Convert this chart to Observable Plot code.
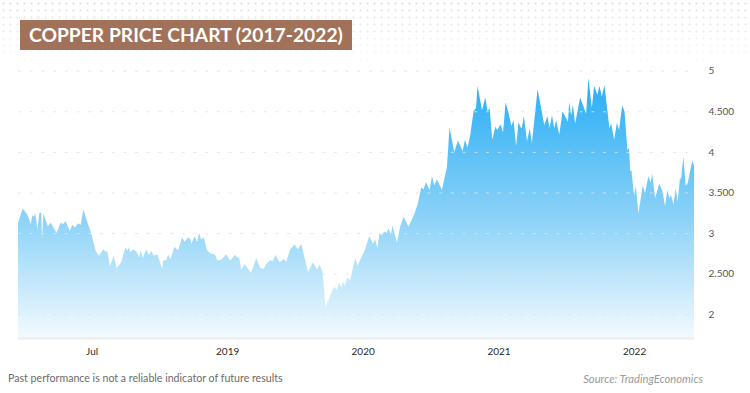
<!DOCTYPE html>
<html>
<head>
<meta charset="utf-8">
<script src="https://cdn.jsdelivr.net/npm/d3@7"></script>
<script src="https://cdn.jsdelivr.net/npm/@observablehq/plot@0.6"></script>
<style>
  html, body { margin: 0; padding: 0; background: #fff; }
  #wrap { position: relative; width: 750px; height: 393px; overflow: hidden; background: #fff; font-family: Lato, "Open Sans", sans-serif; }
  #dots { position: absolute; left: 0; top: 0; width: 750px; height: 70px;
    background-image: radial-gradient(circle, #dedede 0.9px, transparent 1.2px);
    background-size: 7px 7px;
    -webkit-mask-image: linear-gradient(to bottom, rgba(0,0,0,0.9), rgba(0,0,0,0));
    mask-image: linear-gradient(to bottom, rgba(0,0,0,0.9), rgba(0,0,0,0)); }
  #chart { position: absolute; left: 0; top: 0; }
  #title { position: absolute; left: 20px; top: 20px; width: 332px; height: 30px; background: #a17259; }
  #title span { position: absolute; left: 9px; top: 50%; transform-origin: left center; color: #fff; font-weight: 700; font-size: 20px; white-space: nowrap; font-family: Lato, sans-serif; line-height: 1; }
  .foot { position: absolute; top: 373px; font-size: 11px; white-space: nowrap; line-height: 1; }
  #note { left: 8px; color: #6b6b6b; }
  #source { right: 47px; color: #9a9a9a; font-style: italic; }
</style>
</head>
<body>
<div id="wrap">
  <div id="dots"></div>
  <div id="chart"></div>
  <div id="title"><span id="titleText">COPPER PRICE CHART (2017-2022)</span></div>
  <div class="foot" id="note">Past performance is not a reliable indicator of future results</div>
  <div class="foot" id="source">Source: TradingEconomics</div>
</div>
<script>
// Decimal-year dates
const years = [
  2017.457,2017.490,2017.521,2017.538,2017.551,2017.563,2017.575,2017.585,2017.600,2017.615,
  2017.629,2017.634,2017.644,2017.678,2017.698,2017.742,2017.772,2017.789,2017.808,2017.838,
  2017.858,2017.877,2017.902,2017.919,2017.939,2017.963,2017.993,2018.029,2018.054,2018.086,
  2018.103,2018.116,2018.135,2018.164,2018.184,2018.219,2018.250,2018.263,2018.275,2018.287,
  2018.304,2018.331,2018.351,2018.361,2018.378,2018.403,2018.422,2018.440,2018.459,2018.484,
  2018.501,2018.521,2018.528,2018.552,2018.565,2018.582,2018.611,2018.639,2018.668,2018.687,
  2018.712,2018.729,2018.737,2018.759,2018.779,2018.793,2018.808,2018.827,2018.852,2018.877,
  2018.908,2018.930,2018.963,2018.992,2019.024,2019.056,2019.090,2019.105,2019.129,2019.176,
  2019.215,2019.245,2019.269,2019.289,2019.319,2019.333,2019.358,2019.387,2019.417,2019.436,
  2019.466,2019.498,2019.523,2019.547,2019.596,2019.633,2019.663,2019.682,2019.704,2019.726,
  2019.761,2019.790,2019.810,2019.827,2019.842,2019.854,2019.871,2019.884,2019.908,2019.945,
  2019.962,2020.018,2020.048,2020.075,2020.092,2020.109,2020.124,2020.141,2020.158,2020.178,
  2020.190,2020.208,2020.220,2020.234,2020.252,2020.276,2020.301,2020.337,2020.374,2020.404,
  2020.431,2020.448,2020.466,2020.492,2020.510,2020.527,2020.547,2020.583,2020.620,2020.639,
  2020.674,2020.701,2020.735,2020.753,2020.772,2020.792,2020.816,2020.834,2020.846,2020.878,
  2020.902,2020.919,2020.934,2020.954,2020.976,2020.991,2021.013,2021.033,2021.052,2021.074,
  2021.094,2021.111,2021.129,2021.148,2021.160,2021.171,2021.187,2021.210,2021.230,2021.246,
  2021.288,2021.337,2021.361,2021.376,2021.394,2021.411,2021.425,2021.448,2021.472,2021.512,
  2021.521,2021.536,2021.548,2021.565,2021.602,2021.646,2021.663,2021.688,2021.705,2021.730,
  2021.744,2021.762,2021.781,2021.818,2021.831,2021.853,2021.873,2021.889,2021.912,2021.929,
  2021.951,2021.963,2021.971,2021.980,2022.000,2022.013,2022.032,2022.064,2022.081,2022.105,
  2022.123,2022.133,2022.155,2022.186,2022.211,2022.228,2022.245,2022.260,2022.273,2022.290,
  2022.307,2022.322,2022.339,2022.346,2022.363,2022.381,2022.396,2022.429,2022.442
];
// Copper price, USD per pound
const prices = [
  3.12,3.30,3.24,3.18,3.11,3.22,3.20,3.24,3.04,3.25,
  3.25,2.92,3.24,3.08,3.13,3.00,3.13,3.11,3.15,3.03,
  3.10,3.07,3.12,3.10,3.29,3.16,3.02,2.79,2.72,2.80,
  2.77,2.78,2.59,2.72,2.57,2.64,2.83,2.78,2.83,2.76,
  2.80,2.77,2.70,2.79,2.69,2.80,2.73,2.78,2.72,2.74,
  2.66,2.56,2.66,2.67,2.74,2.68,2.83,2.79,2.95,2.89,
  2.95,2.92,2.87,2.96,2.89,3.00,2.92,2.95,2.79,2.75,
  2.74,2.66,2.68,2.74,2.66,2.73,2.69,2.55,2.62,2.51,
  2.69,2.57,2.56,2.62,2.67,2.65,2.73,2.64,2.68,2.65,
  2.80,2.86,2.80,2.87,2.52,2.64,2.55,2.61,2.52,2.09,
  2.23,2.34,2.30,2.39,2.33,2.40,2.35,2.45,2.42,2.69,
  2.60,2.80,2.96,2.87,2.92,2.81,3.00,2.97,3.02,3.00,
  3.06,2.98,3.09,3.00,2.88,3.08,3.20,3.08,3.21,3.35,
  3.56,3.54,3.63,3.53,3.70,3.59,3.66,3.53,3.81,4.30,
  4.00,4.14,4.01,4.15,4.05,4.21,4.50,4.54,4.81,4.51,
  4.67,4.50,4.54,4.15,4.31,4.27,4.34,4.24,4.61,4.48,
  4.32,4.39,4.07,4.37,4.31,4.29,4.44,4.13,4.29,4.11,
  4.77,4.33,4.44,4.29,4.45,4.29,4.39,4.21,4.50,4.37,
  4.61,4.45,4.58,4.35,4.67,4.47,4.91,4.54,4.81,4.70,
  4.81,4.68,4.82,4.29,4.35,4.15,4.36,4.27,4.57,4.50,
  4.02,4.05,3.76,3.78,3.46,3.58,3.24,3.59,3.49,3.70,
  3.62,3.73,3.43,3.61,3.51,3.33,3.53,3.43,3.47,3.35,
  3.55,3.39,3.69,3.65,3.94,3.58,3.62,3.89,3.83
];
const xTickDates = ["2018-01-01", "2019-01-01", "2020-01-01", "2021-01-01", "2022-01-01"];
const xTickLabels = ["Jul", "2019", "2020", "2021", "2022"];
const yTicks = [2, 2.5, 3, 3.5, 4, 4.5, 5];
const yTickLabels = ["2", "2.500", "3", "3.500", "4", "4.500", "5"];
const Y_MIN = 1.708, Y_MAX = 5.107;

function toDate(y) {
  const yr = Math.floor(y);
  const s = Date.UTC(yr, 0, 1), e = Date.UTC(yr + 1, 0, 1);
  return new Date(s + (y - yr) * (e - s));
}
const n = Math.min(years.length, prices.length);
const data = d3.range(n).map(i => ({date: toDate(years[i]), price: prices[i]}));
const tickDates = xTickDates.map(s => new Date(s + "T00:00:00Z"));

const plot = Plot.plot({
  width: 750,
  height: 362,
  marginTop: 62,
  marginBottom: 24,
  marginLeft: 18,
  marginRight: 56,
  style: {fontFamily: "Lato, 'Open Sans', sans-serif", fontSize: "10px", background: "transparent", overflow: "visible"},
  x: {
    type: "utc",
    domain: [data[0].date, data[n - 1].date],
    ticks: tickDates,
    tickFormat: d => xTickLabels[tickDates.findIndex(t => +t === +d)],
    tickSize: 0,
    tickPadding: 9,
    label: null
  },
  y: {
    domain: [Y_MIN, Y_MAX],
    ticks: yTicks,
    tickFormat: d => yTickLabels[yTicks.indexOf(d)],
    axis: "right",
    tickSize: 0,
    tickPadding: 14,
    label: null
  },
  marks: [
    Plot.areaY(data, {x: "date", y1: Y_MIN, y2: "price", fill: "url(#cuGrad)"}),
    Plot.gridY(yTicks, {stroke: "#e2e2e2", strokeOpacity: 0.85, strokeDasharray: "3,8.7"}),
    Plot.ruleY([Y_MIN], {stroke: "#ebebeb", strokeWidth: 2})
  ]
});

// gradient definition
const ys = plot.scale("y");
const ns = "http://www.w3.org/2000/svg";
const defs = document.createElementNS(ns, "defs");
const grad = document.createElementNS(ns, "linearGradient");
grad.setAttribute("id", "cuGrad");
grad.setAttribute("gradientUnits", "userSpaceOnUse");
grad.setAttribute("x1", 0); grad.setAttribute("x2", 0);
grad.setAttribute("y1", ys.apply(d3.max(prices)));
grad.setAttribute("y2", ys.apply(Y_MIN));
[["0", "#26adf5"], ["0.55", "#8ed3f8"], ["1", "#f3fafe"]].forEach(([o, c]) => {
  const s = document.createElementNS(ns, "stop");
  s.setAttribute("offset", o); s.setAttribute("stop-color", c);
  grad.appendChild(s);
});
defs.appendChild(grad);
plot.insertBefore(defs, plot.firstChild);

// axis text colours
plot.querySelectorAll("[aria-label='y-axis tick label'] text, [aria-label='y-axis tick label']").forEach(el => el.setAttribute("fill", "#555"));
plot.querySelectorAll("[aria-label='x-axis tick label'] text, [aria-label='x-axis tick label']").forEach(el => el.setAttribute("fill", "#2a2a2a"));

document.getElementById("chart").appendChild(plot);

// fit text widths to reference
function fitWidth(el, target) {
  const w = el.getBoundingClientRect().width;
  const fs = parseFloat(getComputedStyle(el).fontSize);
  el.style.fontSize = (fs * target / w) + "px";
}
const tt = document.getElementById("titleText");
tt.style.transform = "translateY(-50%)";
fitWidth(tt, 314);
fitWidth(document.getElementById("note"), 275);
fitWidth(document.getElementById("source"), 120);
</script>
</body>
</html>
